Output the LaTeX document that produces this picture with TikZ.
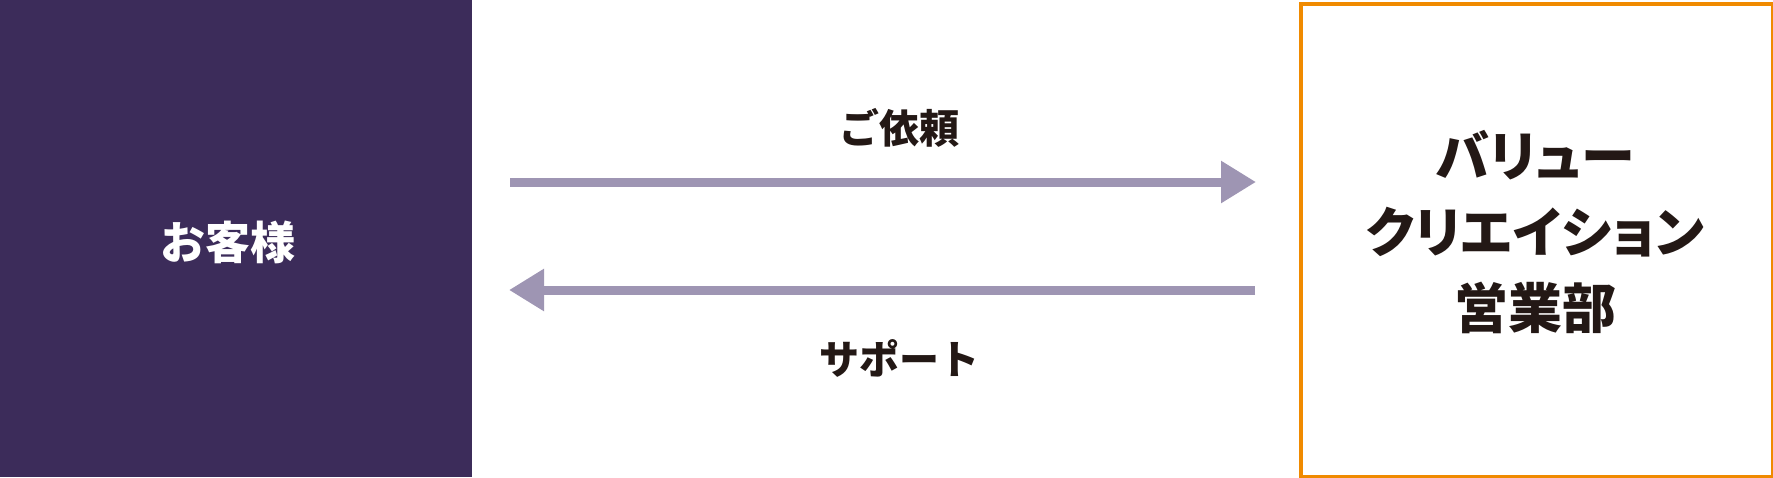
\documentclass[tikz,border=0pt]{standalone}
\usepackage{fontspec}
\newfontfamily\jp{Noto Sans CJK JP}
\newfontfamily\jpp{Noto Sans CJK JP}[RawFeature=+palt]
\usetikzlibrary{arrows.meta}
\definecolor{boxpurple}{HTML}{3C2C5A}
\definecolor{arrowgray}{HTML}{9E95B3}
\definecolor{boxorange}{HTML}{F08A00}
\definecolor{textdark}{HTML}{231815}
\tikzset{
  flow/.style={draw=arrowgray, line width=9pt, -{Triangle[length=35pt,width=40pt]}},
  lbl/.style={font=\jp\bfseries\fontsize{40}{48}\selectfont, text=textdark, inner sep=0pt}
}
\begin{document}
\begin{tikzpicture}[x=1pt,y=-1pt]
\useasboundingbox (0,0) rectangle (1773,477);
\node[fill=boxpurple, minimum width=472pt, minimum height=477pt, inner sep=0pt, anchor=north west] (L) at (0,0) {};
\node[font=\jp\bfseries\fontsize{45}{54}\selectfont, text=white, inner sep=0pt] (Lt) at (228,242) {お客様};
\node[draw=boxorange, line width=4pt, minimum width=472pt, minimum height=473pt, inner sep=0pt, anchor=north west] (R) at (1299,2) {};
\node[font=\jpp\bfseries\fontsize{54}{76}\selectfont, text=textdark, align=center, inner sep=0pt] (Rt) at (1535,232) {バリュー\\クリエイション\\営業部};
\coordinate (a1s) at (510,182);
\coordinate (a1e) at (1256,182);
\coordinate (a2s) at (1255,290);
\coordinate (a2e) at (509,290);
\draw[flow] (a1s) -- (a1e);
\draw[flow] (a2s) -- (a2e);
\node[lbl] (t1) at (899,128) {ご依頼};
\node[lbl] (t2) at (899,358) {サポート};
\end{tikzpicture}
\end{document}
